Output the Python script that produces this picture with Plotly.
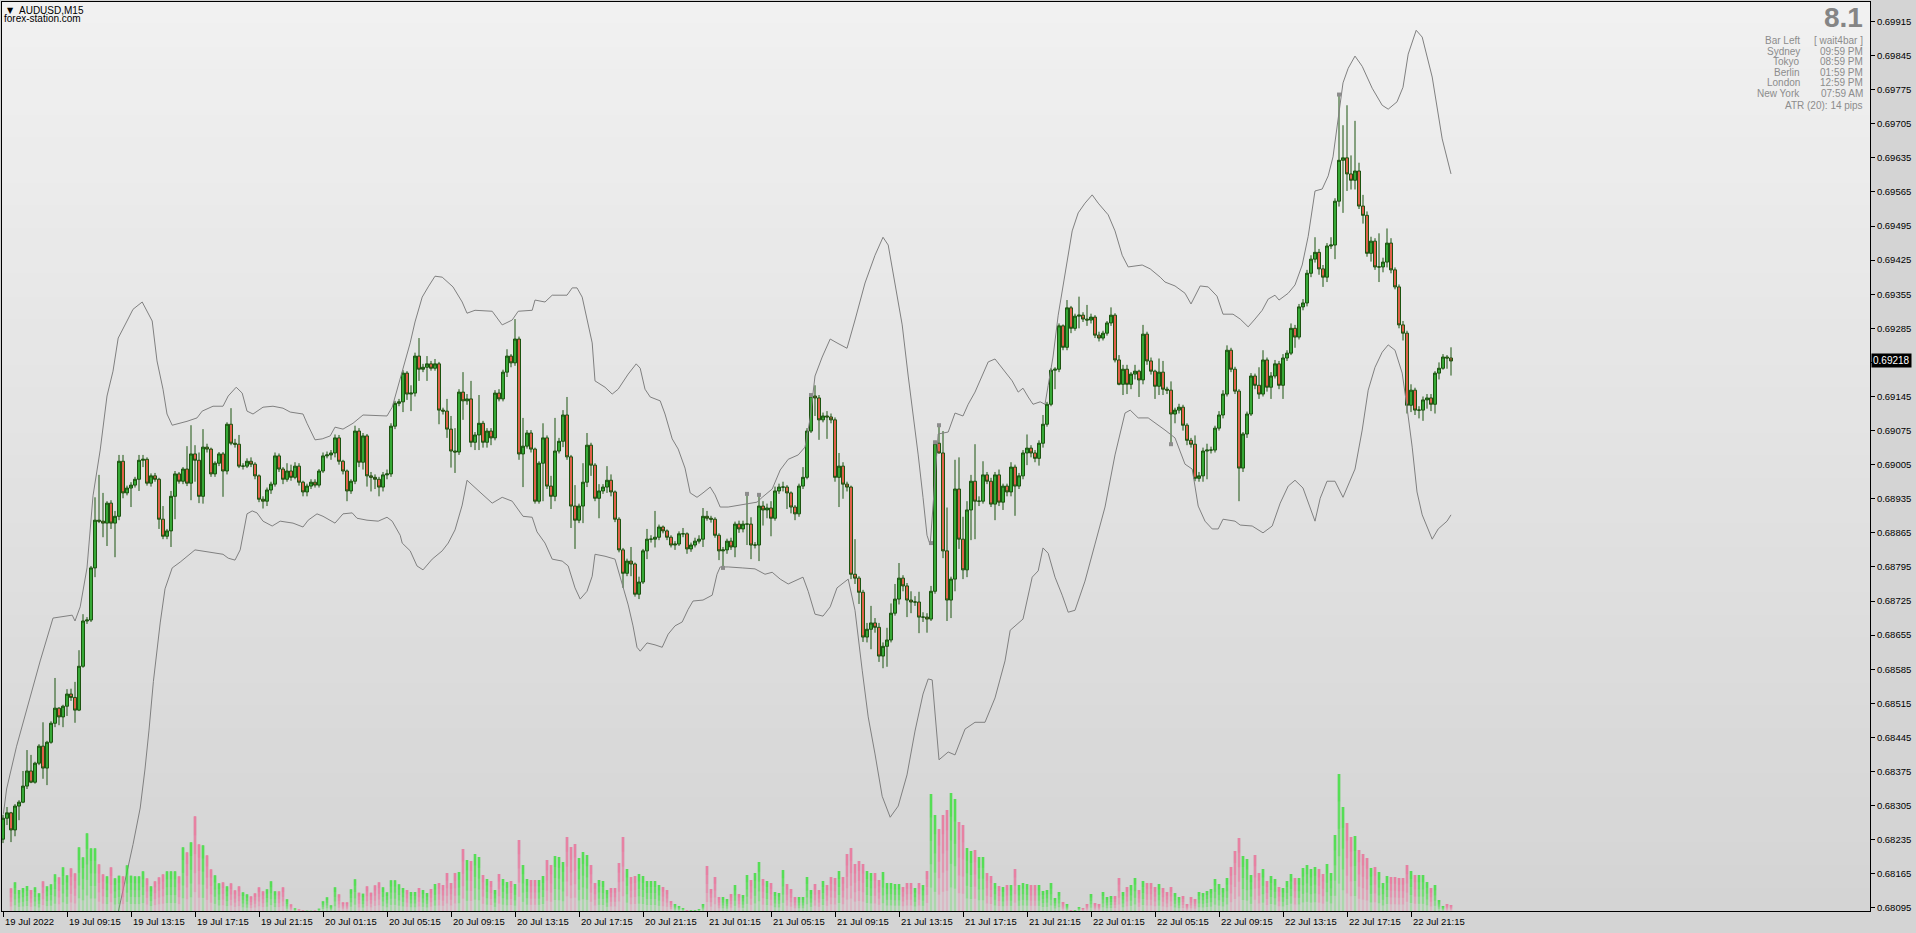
import plotly.graph_objects as go

# ---------------- DATA (prices in points, 1 point = 0.00001) ----------------
first_open_pts = 68236

close_pts = [
    68279, 68290, 68255, 68304, 68312, 68345, 68376, 68353, 68392, 68427,
    68382, 68435, 68474, 68505, 68487, 68509, 68534, 68527, 68501, 68591,
    68684, 68686, 68793, 68891, 68889, 68885, 68926, 68885, 68899, 69012,
    68947, 68957, 68963, 68975, 69014, 69016, 68967, 68982, 68975, 68893,
    68858, 68869, 68940, 68986, 68971, 68996, 68967, 69027, 69014, 68940,
    69041, 69037, 68986, 69008, 69027, 68992, 69088, 69049, 69047, 69002,
    69002, 69012, 69006, 68982, 68934, 68930, 68953, 68965, 69023, 68996,
    68975, 68992, 68979, 69002, 68969, 68949, 68961, 68969, 68963, 68992,
    69023, 69025, 69029, 69060, 69012, 68992, 68951, 68971, 69074, 69010,
    69064, 68982, 68979, 68975, 68959, 68984, 68986, 69084, 69131, 69134,
    69193, 69150, 69152, 69228, 69201, 69205, 69212, 69203, 69212, 69117,
    69115, 69078, 69033, 69031, 69154, 69136, 69140, 69051, 69066, 69090,
    69051, 69074, 69060, 69152, 69140, 69195, 69228, 69214, 69263, 69027,
    69043, 69070, 69037, 68930, 69008, 69060, 68961, 68940, 69033, 69053,
    69107, 69021, 68920, 68891, 68920, 68969, 69045, 69004, 68936, 68951,
    68959, 68973, 68949, 68893, 68830, 68782, 68807, 68801, 68739, 68764,
    68828, 68852, 68852, 68856, 68877, 68869, 68856, 68840, 68842, 68863,
    68863, 68832, 68840, 68848, 68852, 68899, 68895, 68893, 68860, 68828,
    68830, 68848, 68836, 68883, 68873, 68883, 68883, 68840, 68840, 68920,
    68912, 68916, 68895, 68951, 68959, 68959, 68947, 68918, 68904, 68961,
    68979, 69074, 69146, 69142, 69097, 69105, 69103, 69097, 68979, 69002,
    68965, 68959, 68780, 68772, 68743, 68651, 68667, 68680, 68671, 68612,
    68632, 68645, 68700, 68729, 68772, 68756, 68727, 68723, 68723, 68692,
    68692, 68688, 68745, 69049, 69029, 68828, 68727, 68770, 68955, 68852,
    68789, 68912, 68971, 68930, 68930, 68984, 68971, 68924, 68984, 68928,
    68961, 68949, 69000, 68961, 68982, 69029, 69039, 69029, 69018, 69049,
    69088, 69129, 69199, 69201, 69290, 69246, 69327, 69285, 69310, 69312,
    69304, 69302, 69308, 69271, 69265, 69275, 69296, 69312, 69220, 69170,
    69201, 69170, 69191, 69197, 69179, 69273, 69218, 69197, 69166, 69195,
    69160, 69158, 69109, 69117, 69123, 69086, 69055, 69047, 68977, 68982,
    69033, 69035, 69035, 69080, 69107, 69150, 69240, 69201, 69156, 68998,
    69068, 69109, 69187, 69168, 69150, 69220, 69164, 69187, 69212, 69168,
    69224, 69234, 69285, 69267, 69329, 69337, 69398, 69427, 69441, 69407,
    69390, 69454, 69456, 69546, 69630, 69635, 69602, 69589, 69608, 69536,
    69517, 69439, 69464, 69411, 69411, 69421, 69460, 69405, 69370, 69292,
    69275, 69127, 69158, 69117, 69117, 69138, 69142, 69129, 69193, 69203,
    69226, 69224, 69218,
]

high_pts = [
    68286, 68302, 68292, 68308, 68316, 68376, 68419, 68409, 68395, 68431,
    68476, 68438, 68478, 68567, 68507, 68512, 68544, 68545, 68559, 68624,
    68698, 68692, 68797, 68938, 68984, 68947, 68930, 68932, 68910, 69025,
    69025, 68962, 68969, 68980, 69025, 69025, 69020, 68987, 68988, 68978,
    68920, 68873, 68951, 68992, 68990, 69000, 69043, 69086, 69045, 69030,
    69078, 69048, 69040, 69012, 69031, 69031, 69092, 69121, 69058, 69066,
    69008, 69018, 69020, 69010, 68985, 68940, 68958, 68970, 69030, 69028,
    69000, 69008, 69005, 69010, 69008, 68972, 68966, 68975, 68975, 68996,
    69030, 69032, 69035, 69067, 69066, 69015, 68995, 68975, 69085, 69080,
    69070, 69068, 68990, 68985, 68980, 68990, 68995, 69090, 69136, 69140,
    69199, 69197, 69168, 69235, 69265, 69212, 69228, 69218, 69222, 69216,
    69122, 69140, 69105, 69080, 69160, 69195, 69150, 69177, 69072, 69148,
    69095, 69080, 69080, 69158, 69160, 69200, 69242, 69232, 69304, 69268,
    69101, 69076, 69076, 69040, 69012, 69090, 69065, 68982, 69101, 69060,
    69117, 69144, 69025, 68963, 68925, 69008, 69070, 69050, 69008, 68965,
    68965, 69002, 68985, 68952, 68897, 68834, 68812, 68836, 68804, 68775,
    68832, 68873, 68860, 68910, 68882, 68880, 68872, 68860, 68848, 68868,
    68875, 68866, 68845, 68855, 68860, 68916, 68910, 68900, 68897, 68864,
    68836, 68853, 68855, 68888, 68890, 68890, 68945, 68897, 68846, 68942,
    68930, 68925, 68930, 68960, 68966, 68970, 68963, 68950, 68922, 68966,
    69000, 69080, 69150, 69168, 69148, 69112, 69115, 69110, 69102, 69029,
    69010, 68970, 68962, 68852, 68776, 68748, 68680, 68715, 68690, 68680,
    68640, 68670, 68720, 68760, 68803, 68778, 68762, 68745, 68735, 68744,
    68702, 68700, 68756, 69054, 69087, 69074, 68917, 68775, 69015, 69020,
    68898, 68930, 68984, 69047, 68940, 69012, 68990, 68978, 68990, 68995,
    68966, 68966, 69010, 69005, 68988, 69035, 69067, 69045, 69035, 69055,
    69107, 69134, 69203, 69205, 69295, 69293, 69343, 69331, 69315, 69350,
    69318, 69333, 69315, 69312, 69278, 69280, 69300, 69328, 69316, 69230,
    69210, 69210, 69195, 69210, 69200, 69292, 69278, 69225, 69200, 69223,
    69218, 69165, 69176, 69122, 69130, 69128, 69090, 69060, 69065, 68990,
    69040, 69048, 69042, 69085, 69115, 69158, 69250, 69245, 69206, 69160,
    69072, 69114, 69193, 69192, 69205, 69240, 69225, 69195, 69220, 69218,
    69232, 69240, 69295, 69292, 69335, 69345, 69405, 69435, 69472, 69448,
    69415, 69460, 69472, 69552, 69765, 69702, 69743, 69640, 69711, 69625,
    69559, 69525, 69473, 69470, 69480, 69430, 69490, 69470, 69410, 69375,
    69300, 69280, 69170, 69163, 69125, 69145, 69150, 69150, 69197, 69215,
    69232, 69230, 69246,
]

low_pts = [
    68228, 68265, 68230, 68242, 68275, 68310, 68339, 68351, 68350, 68388,
    68360, 68347, 68432, 68466, 68470, 68466, 68489, 68520, 68475, 68499,
    68588, 68678, 68682, 68774, 68885, 68856, 68838, 68873, 68815, 68891,
    68936, 68942, 68918, 68958, 68951, 69000, 68962, 68960, 68970, 68873,
    68852, 68852, 68836, 68893, 68966, 68965, 68961, 68932, 68970, 68926,
    68925, 69030, 68980, 68980, 69002, 68939, 68985, 69045, 69040, 68998,
    68995, 68998, 69000, 68975, 68928, 68915, 68920, 68945, 68960, 68990,
    68965, 68970, 68972, 68975, 68962, 68940, 68940, 68955, 68958, 68958,
    68988, 69018, 69015, 69020, 69005, 68985, 68930, 68945, 68965, 69000,
    68995, 68960, 68950, 68955, 68940, 68950, 68975, 68980, 69078, 69125,
    69113, 69138, 69115, 69145, 69177, 69195, 69177, 69198, 69198, 69088,
    69108, 69060, 68999, 68988, 69025, 69097, 69128, 69041, 69035, 69035,
    69040, 69040, 69045, 69055, 69135, 69135, 69185, 69205, 69208, 69015,
    68959, 69038, 69030, 68925, 68925, 68930, 68955, 68914, 68930, 69028,
    69041, 69015, 68875, 68832, 68885, 68885, 68959, 68982, 68930, 68895,
    68945, 68947, 68940, 68887, 68825, 68752, 68776, 68776, 68734, 68729,
    68760, 68811, 68845, 68835, 68850, 68864, 68850, 68835, 68830, 68838,
    68856, 68822, 68826, 68835, 68843, 68836, 68890, 68886, 68855, 68809,
    68793, 68822, 68830, 68815, 68865, 68866, 68840, 68811, 68833, 68807,
    68880, 68895, 68858, 68890, 68945, 68950, 68914, 68905, 68891, 68898,
    68955, 68975, 69070, 69105, 69056, 69092, 69058, 69090, 68970, 68918,
    68935, 68950, 68770, 68760, 68719, 68641, 68640, 68626, 68660, 68600,
    68587, 68590, 68640, 68695, 68718, 68745, 68692, 68700, 68715, 68659,
    68682, 68660, 68684, 68740, 69028, 68813, 68684, 68690, 68745, 68832,
    68770, 68774, 68850, 68852, 68920, 68925, 68965, 68918, 68891, 68920,
    68912, 68940, 68940, 68900, 68955, 68975, 69004, 69020, 69010, 69003,
    69040, 69083, 69125, 69160, 69195, 69240, 69240, 69275, 69280, 69285,
    69298, 69290, 69295, 69265, 69258, 69260, 69270, 69290, 69215, 69168,
    69148, 69150, 69160, 69180, 69144, 69170, 69210, 69190, 69140, 69148,
    69148, 69150, 69047, 69090, 69110, 69075, 69045, 69040, 68971, 68970,
    68970, 68975, 69028, 69030, 69075, 69100, 69145, 69195, 69150, 68930,
    68990, 69060, 69105, 69160, 69140, 69145, 69155, 69140, 69182, 69160,
    69140, 69218, 69230, 69245, 69262, 69322, 69330, 69390, 69420, 69395,
    69370, 69380, 69448, 69427, 69535, 69522, 69567, 69570, 69570, 69530,
    69500, 69432, 69422, 69405, 69380, 69400, 69410, 69398, 69365, 69285,
    69260, 69110, 69113, 69107, 69100, 69095, 69120, 69115, 69110, 69180,
    69200, 69202, 69188,
]

volume_ticks = [
    0, 0,
    227, 287, 210, 230, 250, 210, 237, 177, 297, 247,
    267, 367, 337, 437, 357, 427, 377, 637, 537, 777,
    627, 627, 467, 367, 347, 437, 327, 353, 347, 457,
    353, 347, 347, 397, 327, 247, 297, 337, 367, 397,
    397, 397, 347, 637, 587, 687, 947, 667, 657, 557,
    417, 357, 277, 287, 247, 277, 207, 247, 187, 167,
    147, 177, 237, 197, 217, 297, 197, 197, 237, 117,
    67, 27, 17, 8, 4, 3, 6, 23, 97, 137,
    57, 237, 167, 87, 87, 217, 317, 183, 173, 247,
    183, 257, 287, 237, 187, 307, 307, 267,
    230, 210, 190, 190, 230, 210, 180, 220, 270, 280,
    260, 380, 280, 380, 390, 620, 510, 500, 570, 540,
    360, 320, 300, 210, 370, 320, 290, 300, 270, 710,
    460, 320, 310, 310, 310, 350, 510, 460, 550, 540,
    490, 740, 640, 670, 530, 590, 560, 460, 280, 310,
    300, 210, 230, 230, 480, 740, 420, 340, 350, 370,
    350, 300, 300, 300, 260, 240, 210, 100, 70, 50,
    30, 10, 10, 10, 20, 70, 450, 220, 340, 140,
    140, 120, 170, 260, 170, 160, 360, 310, 380, 490,
    320, 300, 280, 190, 180,
    410, 270, 220, 140, 140, 140, 340, 210, 270, 210,
    300, 260, 340, 330, 400, 340, 570, 630, 470, 500,
    470, 400, 380, 380, 310, 390, 280, 280, 270, 270,
    240, 280, 280, 230, 280, 260, 400, 1170, 960, 820,
    960, 1010, 1180, 1120, 890, 860, 630, 600, 610, 540,
    540, 380, 350, 280, 250, 240, 260, 260, 420, 260,
    280, 270, 260, 260, 260, 200, 210, 280, 130, 190,
    90, 70, 10, 10, 40, 30, 70, 170, 80, 70,
    190, 140, 150, 150, 330, 190, 240, 260, 330, 210,
    300, 280, 280, 240, 270,
    230, 190, 240, 180, 140, 150, 70, 140, 120, 190,
    180, 200, 220, 320, 270, 230, 330, 440, 600, 730,
    550, 520, 360, 560, 380, 420, 300, 350, 320, 240,
    230, 300, 370, 330, 330, 430, 460, 420, 440, 420,
    370, 470, 380, 760, 1370, 1040, 880, 740, 750, 610,
    570, 530, 430, 440, 390, 280, 350, 340, 340, 330,
    330, 460, 400, 360, 360, 360, 290, 230, 260, 110,
    50, 70, 60,
]

# Envelope bands: (bar position, price in points)
upper_band = [
    (0.1, 68288), (0.9, 68339), (3.4, 68427), (9.3, 68602), (12.5, 68690), (17.3, 68696),
    (18.0, 68684), (19.3, 68713), (21.0, 68793), (22.5, 68941), (24.3, 69035), (26.0, 69146),
    (27.5, 69197), (28.8, 69265), (31.0, 69300), (32.5, 69324), (34.8, 69339), (37.3, 69300),
    (38.5, 69218), (40.0, 69160), (41.0, 69109), (42.3, 69086), (46.0, 69094), (48.5, 69101),
    (49.8, 69115), (52.5, 69125), (55.0, 69125), (56.3, 69146), (58.3, 69164), (59.8, 69152),
    (61.0, 69115), (62.5, 69109), (65.0, 69123), (67.5, 69125), (70.0, 69121), (71.8, 69113),
    (75.0, 69109), (76.0, 69090), (78.0, 69056), (79.8, 69058), (81.8, 69064), (83.0, 69082),
    (85.0, 69078), (87.5, 69090), (90.0, 69107), (96.0, 69105), (97.3, 69123), (99.3, 69183),
    (99.8, 69199), (101.8, 69255), (103.0, 69298), (104.8, 69349), (106.3, 69370), (108.0, 69392),
    (109.8, 69390), (112.5, 69370), (114.8, 69339), (116.0, 69316), (118.0, 69322), (122.3, 69320),
    (124.8, 69292), (127.3, 69302), (128.8, 69320), (132.3, 69322), (133.0, 69343), (135.5, 69339),
    (137.3, 69353), (141.0, 69353), (142.3, 69368), (143.5, 69368), (144.8, 69349), (146.0, 69306),
    (147.3, 69255), (148.0, 69177), (150.5, 69164), (152.3, 69150), (153.8, 69160), (156.3, 69191),
    (158.3, 69212), (159.3, 69203), (160.5, 69160), (161.8, 69144), (164.3, 69136), (165.5, 69109),
    (167.3, 69058), (168.8, 69037), (170.5, 68998), (171.8, 68947), (173.5, 68938), (175.0, 68947),
    (176.8, 68959), (178.0, 68943), (179.3, 68918), (181.3, 68918), (183.8, 68922), (186.3, 68926),
    (188.5, 68928), (189.8, 68938), (192.3, 68955), (194.3, 68994), (196.3, 69016), (198.8, 69025),
    (200.5, 69041), (201.8, 69101), (203.0, 69187), (204.8, 69226), (206.8, 69263), (208.5, 69255),
    (211.0, 69244), (213.0, 69302), (215.5, 69378), (218.0, 69435), (220.0, 69472), (221.3, 69456),
    (223.0, 69378), (224.8, 69292), (226.3, 69187), (227.5, 69111), (228.8, 69025), (230.0, 68938),
    (231.0, 68860), (231.8, 68840), (233.0, 68975), (233.8, 69068), (236.3, 69072), (238.0, 69111),
    (240.0, 69105), (241.3, 69129), (243.0, 69154), (244.8, 69187), (246.3, 69216), (248.0, 69222),
    (250.5, 69197), (252.3, 69177), (253.8, 69154), (255.0, 69162), (256.3, 69144), (257.5, 69129),
    (259.3, 69134), (260.5, 69129), (261.3, 69168), (262.5, 69226), (263.8, 69312), (265.5, 69398),
    (267.3, 69485), (268.8, 69522), (270.5, 69542), (272.3, 69559), (273.8, 69542), (276.3, 69518),
    (278.0, 69485), (279.8, 69435), (281.3, 69411), (284.8, 69415), (286.8, 69407), (289.3, 69390),
    (290.5, 69380), (293.0, 69372), (295.5, 69357), (297.0, 69335), (299.3, 69372), (301.3, 69370),
    (303.5, 69351), (305.0, 69314), (307.5, 69314), (309.3, 69304), (311.3, 69288), (313.0, 69304),
    (314.8, 69322), (316.3, 69345), (318.0, 69353), (319.0, 69343), (321.3, 69357), (323.0, 69374),
    (324.8, 69415), (326.3, 69474), (328.0, 69567), (329.8, 69571), (331.3, 69598), (332.5, 69637),
    (333.8, 69719), (335.0, 69789), (336.3, 69819), (338.0, 69844), (339.8, 69823), (342.3, 69778),
    (344.8, 69743), (346.3, 69735), (348.5, 69750), (350.0, 69780), (351.3, 69848), (353.3, 69897),
    (354.8, 69883), (357.3, 69801), (359.8, 69674), (361.0, 69637), (362.0, 69602),
]

lower_band = [
    (26.5, 67980), (28.8, 68086), (30.5, 68150), (32.5, 68225), (34.3, 68300), (35.5, 68380),
    (36.5, 68460), (37.6, 68560), (39.3, 68680), (40.5, 68750), (42.3, 68793), (44.3, 68805),
    (48.0, 68830), (51.0, 68826), (55.0, 68821), (56.3, 68813), (58.0, 68809), (59.3, 68830),
    (61.0, 68904), (62.3, 68910), (63.5, 68906), (65.0, 68889), (67.3, 68879), (69.3, 68889),
    (72.5, 68885), (75.0, 68877), (76.3, 68891), (78.5, 68904), (80.0, 68899), (83.0, 68885),
    (85.0, 68904), (87.3, 68906), (88.5, 68895), (91.0, 68891), (93.8, 68889), (96.0, 68897),
    (97.3, 68889), (99.3, 68860), (99.8, 68844), (101.8, 68828), (103.5, 68797), (105.0, 68789),
    (107.3, 68811), (109.8, 68828), (111.3, 68844), (113.0, 68871), (114.8, 68922), (116.0, 68973),
    (118.0, 68959), (120.0, 68943), (122.3, 68926), (124.8, 68938), (127.3, 68930), (130.0, 68899),
    (132.3, 68897), (133.5, 68867), (135.5, 68844), (137.3, 68811), (139.8, 68807), (141.3, 68797),
    (143.0, 68752), (144.3, 68729), (146.0, 68745), (147.3, 68776), (148.0, 68821), (150.5, 68817),
    (153.0, 68811), (154.8, 68760), (156.3, 68717), (157.5, 68674), (158.5, 68630), (159.3, 68622),
    (161.0, 68639), (163.0, 68635), (164.8, 68630), (166.3, 68657), (168.0, 68674), (169.8, 68682),
    (171.3, 68708), (172.5, 68725), (175.0, 68727), (177.3, 68737), (178.5, 68780), (179.3, 68795),
    (181.3, 68795), (184.8, 68793), (188.0, 68791), (190.5, 68780), (192.3, 68784), (194.3, 68770),
    (196.3, 68760), (200.0, 68774), (201.3, 68745), (203.0, 68698), (205.0, 68694), (206.8, 68713),
    (208.5, 68752), (211.3, 68770), (213.0, 68706), (214.8, 68583), (216.3, 68487), (218.0, 68411),
    (219.8, 68324), (221.8, 68281), (223.8, 68304), (226.0, 68368), (228.0, 68458), (230.0, 68534),
    (231.3, 68565), (232.3, 68563), (233.0, 68497), (234.0, 68399), (236.3, 68415), (238.0, 68409),
    (240.5, 68462), (243.0, 68476), (245.5, 68476), (248.0, 68526), (250.5, 68602), (251.8, 68665),
    (255.0, 68688), (257.3, 68774), (258.8, 68787), (260.0, 68834), (261.3, 68823), (263.0, 68774),
    (264.8, 68737), (266.3, 68702), (268.0, 68706), (270.5, 68766), (273.0, 68842), (275.5, 68918),
    (278.0, 69025), (280.5, 69111), (281.8, 69117), (283.8, 69101), (286.3, 69101), (289.3, 69084),
    (290.5, 69076), (293.0, 69060), (295.5, 69006), (297.3, 68996), (298.8, 68920), (300.5, 68889),
    (302.3, 68873), (303.8, 68873), (305.0, 68893), (308.0, 68889), (309.3, 68881), (312.3, 68879),
    (315.0, 68865), (317.3, 68879), (319.3, 68926), (321.3, 68961), (323.0, 68973), (325.0, 68957),
    (326.8, 68914), (328.0, 68889), (329.3, 68936), (331.0, 68971), (333.0, 68971), (335.0, 68938),
    (338.0, 68996), (339.8, 69076), (341.3, 69158), (343.0, 69205), (344.8, 69236), (346.3, 69251),
    (348.0, 69240), (349.8, 69193), (351.0, 69123), (352.3, 69041), (353.5, 68949), (354.8, 68902),
    (357.3, 68852), (358.8, 68873), (361.0, 68889), (362.0, 68902),
]

# small grey pivot marks
mark_bar = [180, 186, 189, 202, 232, 233, 234, 292, 334]
mark_pts = [68793, 68945, 68943, 69148, 68844, 69051, 69086, 69047, 69765]

tick_bar = [0, 16, 32, 48, 64, 80, 96, 112, 128, 144, 160, 176,
            192, 208, 224, 240, 256, 272, 288, 304, 320, 336, 352]
tick_labels = ["19 Jul 2022", "19 Jul 09:15", "19 Jul 13:15", "19 Jul 17:15", "19 Jul 21:15",
               "20 Jul 01:15", "20 Jul 05:15", "20 Jul 09:15", "20 Jul 13:15", "20 Jul 17:15",
               "20 Jul 21:15", "21 Jul 01:15", "21 Jul 05:15", "21 Jul 09:15", "21 Jul 13:15",
               "21 Jul 17:15", "21 Jul 21:15", "22 Jul 01:15", "22 Jul 05:15", "22 Jul 09:15",
               "22 Jul 13:15", "22 Jul 17:15", "22 Jul 21:15"]

price_tick_pts = [68095 + 70 * k for k in range(27)]
last_price = 0.69218

info_big = "8.1"
info_left = ["Bar Left", "Sydney", "Tokyo", "Berlin", "London", "New York"]
info_right = ["[ wait4bar ]", "09:59 PM", "08:59 PM", "01:59 PM", "12:59 PM", "07:59 AM"]
info_atr = "ATR (20): 14 pips"

# ---------------- BUILD ----------------
P = 1e-5
n = len(close_pts)
bars = list(range(n))
close = [v * P for v in close_pts]
open_ = [first_open_pts * P] + close[:-1]
high = [max(h * P, o, c) for h, o, c in zip(high_pts, open_, close)]
low = [min(l * P, o, c) for l, o, c in zip(low_pts, open_, close)]

FONT = "Liberation Sans, Arial, sans-serif"
fig = go.Figure()

# volume histogram with vertical fade (stacked translucent layers)
bull = [c >= o for o, c in zip(open_, close)]
NL = 5
for k in range(NL):
    cols = ["rgba(40,225,40,0.24)" if b else "rgba(238,100,145,0.24)" for b in bull]
    fig.add_trace(go.Bar(
        x=bars, y=[v * (NL - k) / NL for v in volume_ticks],
        base=[v * k / NL for v in volume_ticks],
        width=0.6, marker=dict(color=cols, line=dict(width=0)),
        yaxis="y2", hoverinfo="skip"))

# bands
fig.add_trace(go.Scatter(x=[p[0] for p in upper_band], y=[p[1] * P for p in upper_band],
                         mode="lines", line=dict(color="#808080", width=1), hoverinfo="skip"))
fig.add_trace(go.Scatter(x=[p[0] for p in lower_band], y=[p[1] * P for p in lower_band],
                         mode="lines", line=dict(color="#808080", width=1), hoverinfo="skip"))

# candles
fig.add_trace(go.Candlestick(
    x=bars, open=open_, high=high, low=low, close=close,
    increasing=dict(fillcolor="#36a836", line=dict(color="#1c5410", width=1)),
    decreasing=dict(fillcolor="#e0604a", line=dict(color="#1c5410", width=1)),
    whiskerwidth=0, hoverinfo="skip"))

# pivot marks
fig.add_trace(go.Scatter(x=mark_bar, y=[v * P for v in mark_pts], mode="markers",
                         marker=dict(symbol="square", size=4, color="#8c8c8c"), hoverinfo="skip"))

# background gradient
NB = 40
for k in range(NB):
    t = (k + 0.5) / NB
    g = int(round(241 - 29 * t))
    fig.add_shape(type="rect", xref="paper", yref="paper", x0=0, x1=1,
                  y0=1 - (k + 1) / NB, y1=1 - k / NB + 0.001,
                  fillcolor=f"rgb({g},{g},{g})", line=dict(width=0), layer="below")

ann = []
# time labels, left-aligned at their tick
for b, t in zip(tick_bar, tick_labels):
    ann.append(dict(x=b, y=0, xref="x", yref="paper", text=t, showarrow=False,
                    xanchor="left", yanchor="top", xshift=0, yshift=-3,
                    font=dict(family=FONT, size=9.5, color="black")))
# current price box
ann.append(dict(x=1, y=last_price, xref="paper", yref="y", text=f"{last_price:.5f}",
                showarrow=False, xanchor="left", yanchor="middle", xshift=1,
                bgcolor="black", borderpad=1, font=dict(family=FONT, size=10, color="white")))
# top-left caption
ann.append(dict(x=0, y=1, xref="paper", yref="paper", text="▼", showarrow=False,
                xanchor="left", yanchor="middle", xshift=3, yshift=-8,
                font=dict(family="DejaVu Sans", size=8, color="black")))
ann.append(dict(x=0, y=1, xref="paper", yref="paper", text="AUDUSD,M15", showarrow=False,
                xanchor="left", yanchor="middle", xshift=15, yshift=-8,
                font=dict(family=FONT, size=10, color="black")))
ann.append(dict(x=0, y=1, xref="paper", yref="paper", text="forex-station.com", showarrow=False,
                xanchor="left", yanchor="middle", xshift=0, yshift=-16,
                font=dict(family=FONT, size=10, color="black")))
# info panel
ann.append(dict(x=1, y=1, xref="paper", yref="paper", text=f"<b>{info_big}</b>", showarrow=False,
                xanchor="right", yanchor="top", xshift=-6, yshift=1, borderpad=0,
                font=dict(family=FONT, size=28, color="#858585")))
for r, (a, b) in enumerate(zip(info_left, info_right)):
    ys = -38.5 - r * 10.5
    ann.append(dict(x=1, y=1, xref="paper", yref="paper", text=a, showarrow=False,
                    xanchor="right", yanchor="middle", xshift=-68, yshift=ys,
                    font=dict(family=FONT, size=10, color="#8c8c8c")))
    ann.append(dict(x=1, y=1, xref="paper", yref="paper", text=b, showarrow=False,
                    xanchor="right", yanchor="middle", xshift=-5, yshift=ys,
                    font=dict(family=FONT, size=10, color="#8c8c8c")))
ann.append(dict(x=1, y=1, xref="paper", yref="paper", text=info_atr, showarrow=False,
                xanchor="right", yanchor="middle", xshift=-5, yshift=-103,
                font=dict(family=FONT, size=10, color="#8c8c8c")))

# the tick label hidden under the current-price box is left blank
price_tick_text = ["" if abs(v * P - last_price) < 0.0002 else f"{v * P:.5f}" for v in price_tick_pts]

fig.update_layout(
    width=1916, height=933,
    margin=dict(l=2, r=46, t=2, b=22),
    paper_bgcolor="#d4d4d4", plot_bgcolor="rgba(0,0,0,0)",
    showlegend=False, barmode="overlay", boxgap=0.25, boxgroupgap=0,
    font=dict(family=FONT, size=10, color="black"),
    annotations=ann,
    xaxis=dict(range=[-0.25, 466.75], showgrid=False, zeroline=False, showline=True,
               linecolor="black", linewidth=1, mirror=True, ticks="outside", ticklen=5,
               tickcolor="black", tickvals=tick_bar, showticklabels=False,
               rangeslider=dict(visible=False), fixedrange=True),
    yaxis=dict(range=[0.680885, 0.6995504], side="right", showgrid=False, zeroline=False,
               showline=True, linecolor="black", linewidth=1, mirror=True, ticks="outside",
               ticklen=4, tickcolor="black", tickvals=[v * P for v in price_tick_pts],
               ticktext=price_tick_text,
               tickfont=dict(family=FONT, size=9.5, color="black"), fixedrange=True),
    yaxis2=dict(range=[0, 9090], overlaying="y", visible=False, fixedrange=True),
)

fig.write_html("out.html", config={"displayModeBar": False},
               post_script="document.body.style.margin='0';document.body.style.overflow='hidden';")
